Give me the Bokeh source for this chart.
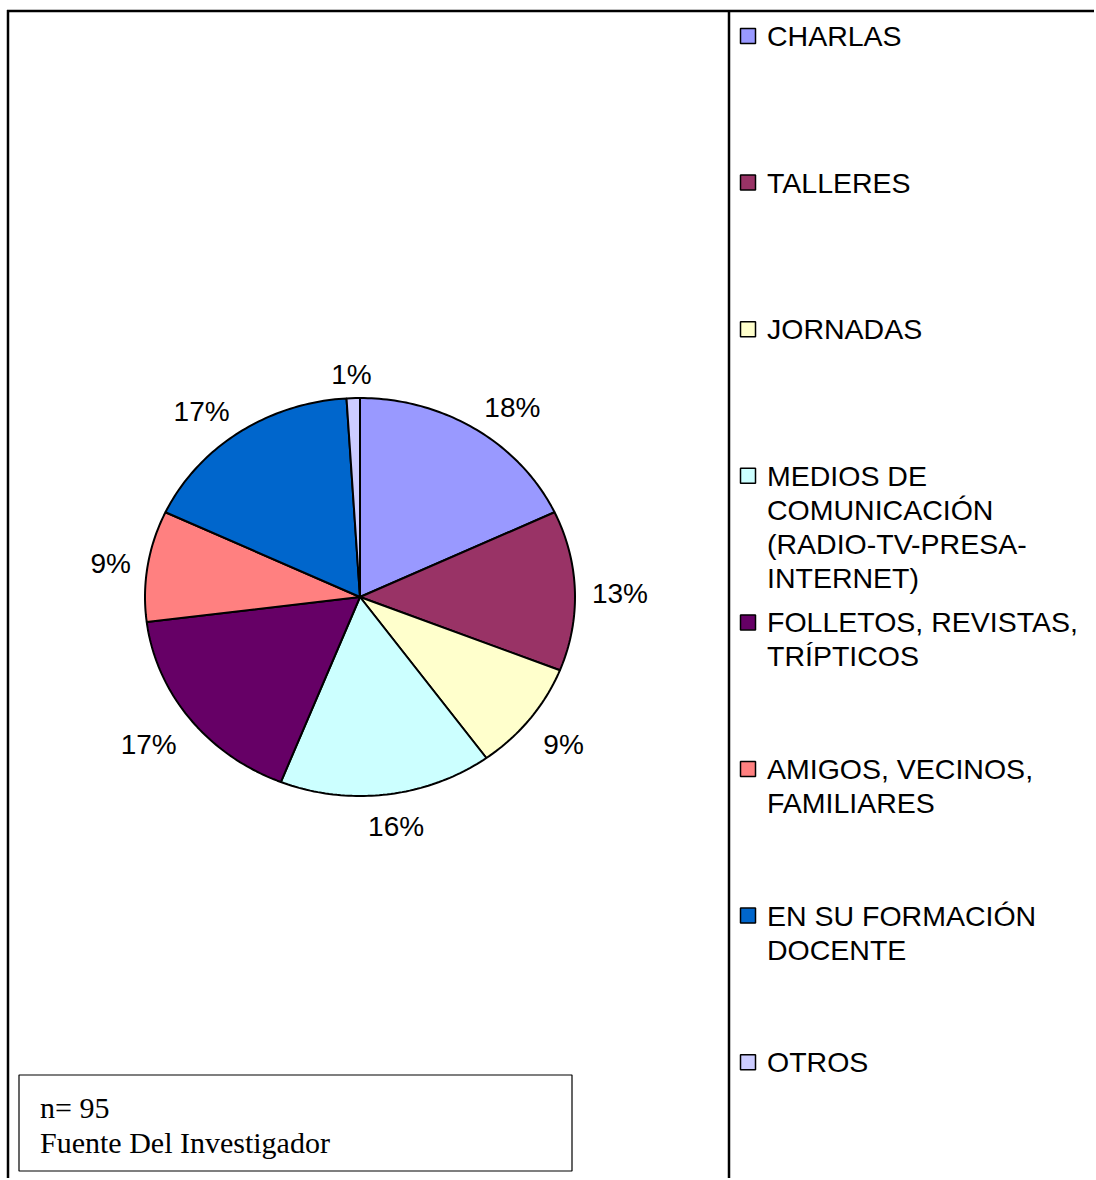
import numpy as np
from bokeh.plotting import figure
from bokeh.models import Range1d
from bokeh.embed import file_html
from bokeh.resources import INLINE
from bokeh.core.properties import value

# ---- data ----
categories = [
    "CHARLAS",
    "TALLERES",
    "JORNADAS",
    "MEDIOS DE\nCOMUNICACIÓN\n(RADIO-TV-PRESA-\nINTERNET)",
    "FOLLETOS, REVISTAS,\nTRÍPTICOS",
    "AMIGOS, VECINOS,\nFAMILIARES",
    "EN SU FORMACIÓN\nDOCENTE",
    "OTROS",
]
percentages = [18, 13, 9, 16, 17, 9, 17, 1]
colors = ["#9999FF", "#993366", "#FFFFCC", "#CCFFFF", "#660066", "#FF8080", "#0066CC", "#CCCCFF"]
note_lines = ["n= 95", "Fuente Del Investigador"]

SANS = value("Liberation Sans")
SERIF = value("Liberation Serif")

# coordinates in page pixels
OFF = 0.5
W, H = 1094, 1178
p = figure(width=W, height=H,
           x_range=Range1d(OFF, W + OFF), y_range=Range1d(H + OFF, OFF),
           output_backend="svg", toolbar_location=None, min_border=0,
           x_axis_type=None, y_axis_type=None)
p.grid.visible = False
p.outline_line_color = None
p.background_fill_color = "white"

# ---- frame ----
p.segment(x0=[7, 8, 729], y0=[11, 10, 10], x1=[1110, 8, 729], y1=[11, 1200, 1200],
          line_color="black", line_width=2.5)

# ---- pie (elliptical, clockwise from 12 o'clock) ----
cx, cy, rx, ry = 360, 597, 215, 199
vals = np.array(percentages, dtype=float)
edges = np.concatenate([[0], np.cumsum(vals)]) / vals.sum() * 2 * np.pi
xs, ys = [], []
for a0, a1 in zip(edges[:-1], edges[1:]):
    n = max(4, int((a1 - a0) / (2 * np.pi) * 360))
    t = np.linspace(a0, a1, n)
    xs.append([cx] + list(cx + rx * np.sin(t)) + [cx])
    ys.append([cy] + list(cy - ry * np.cos(t)) + [cy])
p.patches(xs=xs, ys=ys, fill_color=colors, line_color="black", line_width=2)

# data labels: box placed just outside the pie at each slice's mid angle
FS = 28
labels = [f"{v:.0f}%" for v in vals / vals.sum() * 100]
mid = (edges[:-1] + edges[1:]) / 2
s, c = np.sin(mid), -np.cos(mid)
gap, half_h = 17, 11
widths = np.array([FS * (0.556 * (len(l) - 1) + 0.889) for l in labels])
lab_x = cx + (rx + gap) * s + widths / 2 * np.clip(2 * s, -1, 1)
lab_y = cy + 4 + (ry + gap) * c + half_h * np.clip(2 * c, -1, 1)
p.text(x=list(lab_x), y=list(lab_y), text=labels, text_font=SANS, text_font_size=f"{FS}px",
       text_align="center", text_baseline="middle", text_color="black")

# ---- legend ----
leg_x0, leg_y0, leg_step, line_step = 748, 36, 146.6, 34
sq_y = [leg_y0 + i * leg_step for i in range(len(categories))]
p.scatter(x=[leg_x0] * len(categories), y=sq_y, marker="square", size=15,
          fill_color=colors, line_color="black", line_width=1.5)
tx, ty, tt = [], [], []
for i, cat in enumerate(categories):
    for j, ln in enumerate(cat.split("\n")):
        tx.append(leg_x0 + 19)
        ty.append(leg_y0 + i * leg_step + j * line_step)
        tt.append(ln)
p.text(x=tx, y=ty, text=tt, text_font=SANS, text_font_size="28.5px",
       text_align="left", text_baseline="middle", text_color="black")

# ---- note box ----
p.quad(left=[19], right=[572], top=[1075], bottom=[1171], fill_color="white",
       line_color="black", line_width=1.2)
p.text(x=[40] * len(note_lines), y=[1107 + 35 * i for i in range(len(note_lines))],
       text=note_lines, text_font=SERIF, text_font_size="30px",
       text_align="left", text_baseline="middle", text_color="black")

open("out.html", "w").write(file_html(p, INLINE))
